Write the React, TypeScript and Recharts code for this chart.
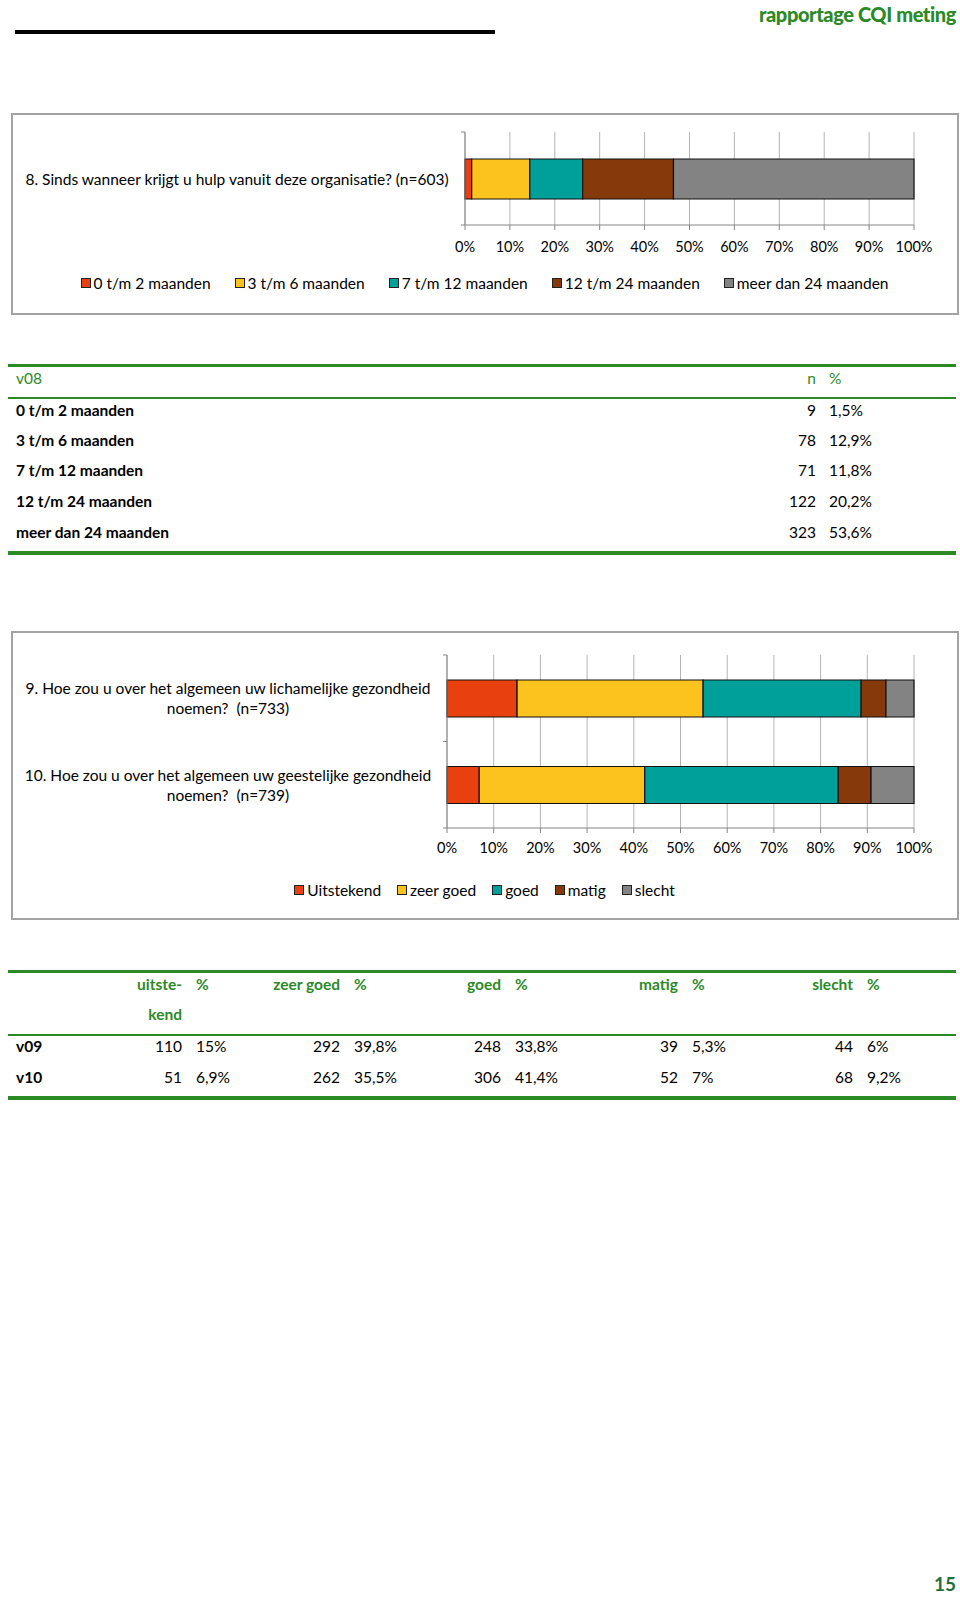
import React from 'react';
import { BarChart, Bar, XAxis, YAxis, CartesianGrid, Legend } from 'recharts';

const FONT = 'Lato, "Open Sans", Arial, sans-serif';
const GREEN = '#2c8a26';
const AXIS = '#868686';
const GRID = '#b4b4b4';
const COLORS = ['#e8410f', '#fcc31e', '#00a09a', '#86390b', '#838383'];

// v08 - Sinds wanneer hulp
const v08Labels = ['0 t/m 2 maanden', '3 t/m 6 maanden', '7 t/m 12 maanden', '12 t/m 24 maanden', 'meer dan 24 maanden'];
const v08Counts = [9, 78, 71, 122, 323];
const v08Pcts = ['1,5%', '12,9%', '11,8%', '20,2%', '53,6%'];
const q8Lines = ['8. Sinds wanneer krijgt u hulp vanuit deze organisatie? (n=603)'];

// v09 / v10 - gezondheid
const healthLabels = ['Uitstekend', 'zeer goed', 'goed', 'matig', 'slecht'];
const healthHeaders = [['uitste-', 'kend'], ['zeer goed'], ['goed'], ['matig'], ['slecht']];
const v09Counts = [110, 292, 248, 39, 44];
const v09Pcts = ['15%', '39,8%', '33,8%', '5,3%', '6%'];
const v10Counts = [51, 262, 306, 52, 68];
const v10Pcts = ['6,9%', '35,5%', '41,4%', '7%', '9,2%'];
const q9Lines = ['9. Hoe zou u over het algemeen uw lichamelijke gezondheid', 'noemen?  (n=733)'];
const q10Lines = ['10. Hoe zou u over het algemeen uw geestelijke gezondheid', 'noemen?  (n=739)'];

const pctTicks = [0, 0.1, 0.2, 0.3, 0.4, 0.5, 0.6, 0.7, 0.8, 0.9, 1];

const buildRow = (lines: string[], labels: string[], counts: number[]) => {
  const row: any = { question: lines.join(' '), lines };
  labels.forEach((l, i) => { row[l] = counts[i]; });
  return row;
};

const v08Data = [buildRow(q8Lines, v08Labels, v08Counts)];
const healthData = [
  buildRow(q9Lines, healthLabels, v09Counts),
  buildRow(q10Lines, healthLabels, v10Counts),
];

const QuestionTick = (props: any) => {
  const { x, y, payload, height, visibleTicksCount, centerGap, rows } = props;
  const row = rows.find((r: any) => r.question === payload.value);
  const lines: string[] = row ? row.lines : [payload.value];
  const band = height / visibleTicksCount;
  const lh = 20;
  const cx = x - centerGap;
  return (
    <g>
      <line x1={x - 4} x2={x} y1={y - band / 2} y2={y - band / 2} stroke={AXIS} />
      <line x1={x - 4} x2={x} y1={y + band / 2} y2={y + band / 2} stroke={AXIS} />
      <text x={cx} y={y} textAnchor="middle" fontFamily={FONT} fontSize={15.5} fill="#000" dominantBaseline="central" style={{ whiteSpace: 'pre' }}>
        {lines.map((l, i) => (
          <tspan key={i} x={cx} y={y - ((lines.length - 1) * lh) / 2 + i * lh}>{l}</tspan>
        ))}
      </text>
    </g>
  );
};

// keep legend entries in series order
const makeLegend = (gap: number, order: string[]) => (props: any) => {
  const items = [...(props.payload || [])].sort((a: any, b: any) => order.indexOf(a.value) - order.indexOf(b.value));
  return (
    <div style={{ display: 'flex', justifyContent: 'center', alignItems: 'center', height: 20, fontFamily: FONT, fontSize: 15.5, color: '#000' }}>
      {items.map((p: any, i: number) => (
        <span key={i} style={{ display: 'flex', alignItems: 'center', marginRight: i < items.length - 1 ? gap : 0, whiteSpace: 'nowrap' }}>
          <span style={{ display: 'inline-block', width: 8, height: 8, background: p.color, border: '1px solid #222', marginRight: 3 }} />
          {p.value}
        </span>
      ))}
    </div>
  );
};

type ChartProps = {
  data: any[];
  keys: string[];
  width: number;
  height: number;
  margin: any;
  yWidth: number;
  xHeight: number;
  barSize: number;
  centerGap: number;
  tickMargin: number;
  legendGap: number;
};

const StackedChart: React.FC<ChartProps> = ({ data, keys, width, height, margin, yWidth, xHeight, barSize, centerGap, tickMargin, legendGap }) => (
  <BarChart width={width} height={height} data={data} layout="vertical" stackOffset="expand" margin={margin}>
    <CartesianGrid horizontal={false} stroke={GRID} />
    <XAxis
      type="number"
      domain={[0, 1]}
      ticks={pctTicks}
      interval={0}
      tickFormatter={(v: number) => `${Math.round(v * 100)}%`}
      axisLine={{ stroke: AXIS }}
      tickLine={{ stroke: AXIS }}
      tickSize={5}
      tickMargin={tickMargin}
      height={xHeight}
      tick={{ fill: '#000', fontSize: 14.5, fontFamily: FONT }}
    />
    <YAxis
      type="category"
      dataKey="question"
      width={yWidth}
      interval={0}
      tickLine={false}
      tickSize={0}
      tickMargin={0}
      axisLine={{ stroke: AXIS }}
      tick={<QuestionTick centerGap={centerGap} rows={data} />}
    />
    <Legend content={makeLegend(legendGap, keys)} verticalAlign="bottom" wrapperStyle={{ left: 0, width }} />
    {keys.map((k, i) => (
      <Bar key={k} dataKey={k} name={k} stackId="a" fill={COLORS[i]} stroke="#111" strokeWidth={1.2} barSize={barSize} isAnimationActive={false} />
    ))}
  </BarChart>
);

const txt = (extra: React.CSSProperties): React.CSSProperties => ({
  position: 'absolute',
  fontFamily: FONT,
  fontSize: 15.5,
  lineHeight: '20px',
  whiteSpace: 'nowrap',
  color: '#000',
  ...extra,
});

const Rule: React.FC<{ top: number; h: number }> = ({ top, h }) => (
  <div style={{ position: 'absolute', left: 8, width: 948, top, height: h, background: GREEN }} />
);

const App: React.FC = () => {
  const t1Rows = [410, 440, 470, 501, 532];
  const t2Right = [182, 340, 501, 678, 853];
  return (
    <div style={{ position: 'absolute', left: 0, top: 0, width: 960, height: 1599, background: '#fff', overflow: 'hidden' }}>
      {/* header */}
      <div style={txt({ right: 4, top: 2, fontSize: 20, fontWeight: 900, color: GREEN, letterSpacing: -0.4, lineHeight: '24px' })}>rapportage CQI meting</div>
      <div style={{ position: 'absolute', left: 15, top: 30, width: 480, height: 4, background: '#000' }} />

      {/* chart v08 */}
      <div style={{ position: 'absolute', left: 11, top: 113, width: 944, height: 198, border: '2px solid #a3a3a3' }} />
      <div style={{ position: 'absolute', left: 12, top: 114 }}>
        <StackedChart
          data={v08Data}
          keys={v08Labels}
          width={945}
          height={199}
          margin={{ top: 18, right: 43, left: 0, bottom: 20 }}
          yWidth={453}
          xHeight={48}
          barSize={40}
          centerGap={228}
          tickMargin={12}
          legendGap={24}
        />
      </div>

      {/* table v08 */}
      <Rule top={364} h={3} />
      <div style={txt({ left: 16, top: 368, color: GREEN })}>v08</div>
      <div style={txt({ right: 960 - 816, top: 368, color: GREEN })}>n</div>
      <div style={txt({ left: 829, top: 368, color: GREEN })}>%</div>
      <div style={{ position: 'absolute', left: 8, width: 948, top: 397, height: 2, background: GREEN }} />
      {v08Labels.map((l, i) => (
        <React.Fragment key={l}>
          <div style={txt({ left: 16, top: t1Rows[i] - 10, fontWeight: 700 })}>{l}</div>
          <div style={txt({ right: 960 - 816, top: t1Rows[i] - 10 })}>{v08Counts[i]}</div>
          <div style={txt({ left: 829, top: t1Rows[i] - 10 })}>{v08Pcts[i]}</div>
        </React.Fragment>
      ))}
      <Rule top={551} h={4} />

      {/* chart v09/v10 */}
      <div style={{ position: 'absolute', left: 11, top: 631, width: 944, height: 285, border: '2px solid #a3a3a3' }} />
      <div style={{ position: 'absolute', left: 12, top: 632 }}>
        <StackedChart
          data={healthData}
          keys={healthLabels}
          width={945}
          height={286}
          margin={{ top: 23, right: 43, left: 0, bottom: 18 }}
          yWidth={435}
          xHeight={52}
          barSize={37}
          centerGap={219}
          tickMargin={10}
          legendGap={16}
        />
      </div>

      {/* table v09/v10 */}
      <Rule top={970} h={3} />
      {healthHeaders.map((h, i) => (
        <React.Fragment key={i}>
          {h.map((line, j) => (
            <div key={j} style={txt({ right: 960 - t2Right[i], top: 974 + j * 30, color: GREEN, fontWeight: 700 })}>{line}</div>
          ))}
          <div style={txt({ left: t2Right[i] + 14, top: 974, color: GREEN, fontWeight: 700 })}>%</div>
        </React.Fragment>
      ))}
      <div style={{ position: 'absolute', left: 8, width: 948, top: 1034, height: 2, background: GREEN }} />
      {[
        { label: 'v09', counts: v09Counts, pcts: v09Pcts, y: 1046 },
        { label: 'v10', counts: v10Counts, pcts: v10Pcts, y: 1077 },
      ].map((r) => (
        <React.Fragment key={r.label}>
          <div style={txt({ left: 16, top: r.y - 10, fontWeight: 700 })}>{r.label}</div>
          {r.counts.map((c, i) => (
            <React.Fragment key={i}>
              <div style={txt({ right: 960 - t2Right[i], top: r.y - 10 })}>{c}</div>
              <div style={txt({ left: t2Right[i] + 14, top: r.y - 10 })}>{r.pcts[i]}</div>
            </React.Fragment>
          ))}
        </React.Fragment>
      ))}
      <Rule top={1096} h={4} />

      {/* page number */}
      <div style={txt({ right: 4, top: 1573, fontSize: 19, fontWeight: 700, color: '#1f6f3a', lineHeight: '22px' })}>15</div>
    </div>
  );
};

export default App;
